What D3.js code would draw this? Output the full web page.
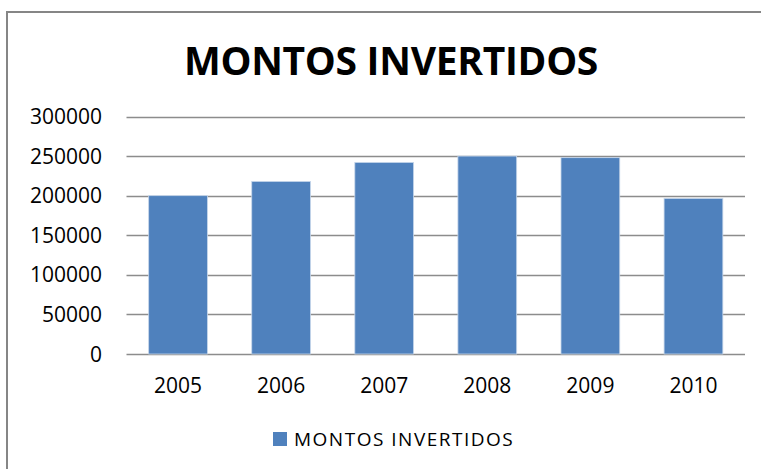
<!DOCTYPE html>
<html>
<head>
<meta charset="utf-8">
<script src="https://cdn.jsdelivr.net/npm/d3@7"></script>
<style>
  body { margin: 0; background: #fff; }
  text { font-family: "Open Sans", sans-serif; fill: #000; }
</style>
</head>
<body>
<svg class="main" width="761" height="469"></svg>
<script>
const years = ["2005", "2006", "2007", "2008", "2009", "2010"];
const montos = [200000, 218000, 242000, 250000, 248000, 196500];
const yTicks = [0, 50000, 100000, 150000, 200000, 250000, 300000];
const title = "MONTOS INVERTIDOS";
const seriesName = "MONTOS INVERTIDOS";

const layout = { left: 126.5, right: 745, top: 116.5, bottom: 354 };

const svg = d3.select(".main");

// chart frame (right and bottom edges are cut off in the original)
svg.append("path")
  .attr("d", "M7,469V12H761")
  .attr("fill", "none")
  .attr("stroke", "#868686")
  .attr("stroke-width", 2);

svg.append("text")
  .attr("x", 391)
  .attr("y", 75)
  .attr("text-anchor", "middle")
  .style("font-size", "39px")
  .style("font-weight", "bold")
  .style("letter-spacing", "-0.3px")
  .text(title);

const x = d3.scaleBand()
  .domain(years)
  .range([layout.left, layout.right])
  .paddingInner(0.43)
  .paddingOuter(0.215);

const y = d3.scaleLinear()
  .domain([0, 300000])
  .range([layout.bottom, layout.top]);

// gridlines
svg.append("g")
  .selectAll("line")
  .data(yTicks)
  .join("line")
  .attr("x1", layout.left)
  .attr("x2", layout.right)
  .attr("y1", d => Math.round(y(d)) + 0.5)
  .attr("y2", d => Math.round(y(d)) + 0.5)
  .attr("stroke", "#8c8c8c")
  .attr("stroke-width", 1.3);

// y labels
svg.append("g")
  .selectAll("text")
  .data(yTicks)
  .join("text")
  .attr("x", 102)
  .attr("y", d => y(d))
  .attr("dy", "0.36em")
  .attr("text-anchor", "end")
  .style("font-size", "21px")
  .text(d => d);

// bars
svg.append("g")
  .selectAll("rect")
  .data(montos)
  .join("rect")
  .attr("x", (d, i) => x(years[i]))
  .attr("width", x.bandwidth())
  .attr("y", d => y(d))
  .attr("height", d => y(0) - y(d))
  .attr("fill", "#4f81bd")
  .attr("stroke", "#c6d6ea")
  .attr("stroke-width", 0.8);

// x labels
svg.append("g")
  .selectAll("text")
  .data(years)
  .join("text")
  .attr("x", d => x(d) + x.bandwidth() / 2)
  .attr("y", 393)
  .attr("text-anchor", "middle")
  .style("font-size", "21px")
  .text(d => d);

// legend
const legend = svg.append("g").attr("transform", "translate(273,432)");
legend.append("rect")
  .attr("width", 14)
  .attr("height", 14)
  .attr("fill", "#4f81bd");
legend.append("text")
  .attr("x", 21)
  .attr("y", 14)
  .style("font-size", "19px")
  .style("letter-spacing", "1.5px")
  .text(seriesName);
</script>
</body>
</html>
